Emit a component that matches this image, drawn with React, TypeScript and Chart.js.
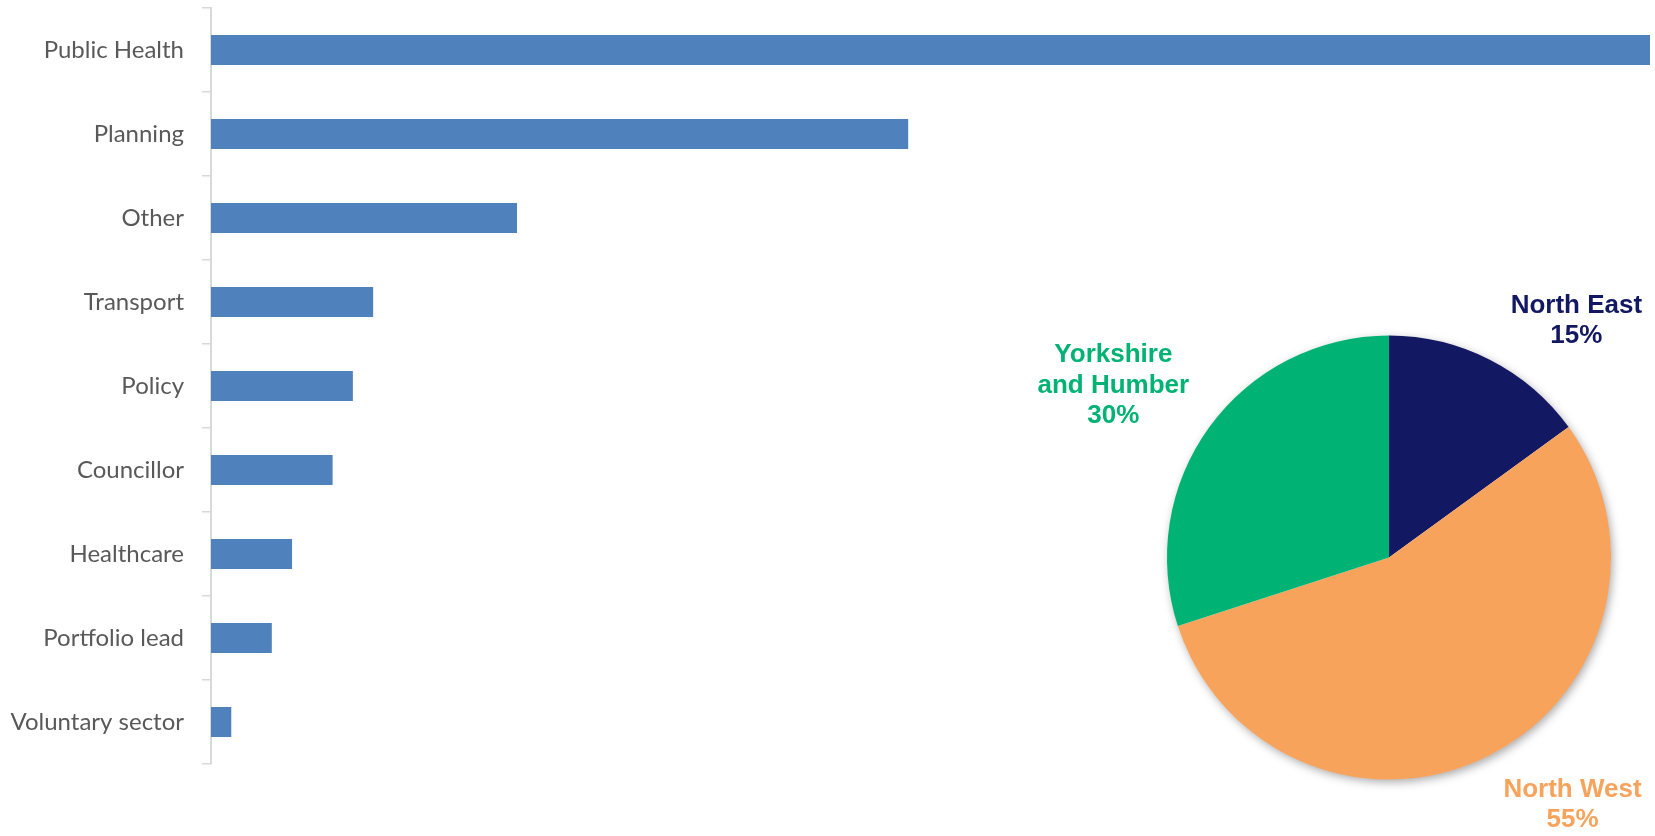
import React, { useEffect, useRef } from "react";
import { Chart, registerables } from "chart.js";

Chart.register(...registerables);

// ---- Bar chart data ----
const categories = [
  "Public Health",
  "Planning",
  "Other",
  "Transport",
  "Policy",
  "Councillor",
  "Healthcare",
  "Portfolio lead",
  "Voluntary sector",
];
const counts = [71, 34.4, 15.1, 8, 7, 6, 4, 3, 1];

// ---- Pie chart data ----
const regions = ["North East", "North West", "Yorkshire and Humber"];
const regionLabelLines = [["North East"], ["North West"], ["Yorkshire", "and Humber"]];
const regionShares = [15, 55, 30];
const regionColors = ["#131862", "#f8a35c", "#00b274"];

// label placement tweaks (relative to slice mid-angle / radius)
const labelAngleShiftDeg = [11.1, -9.8, -3.7];
const labelRadiusFactor = [1.368, 1.38, 1.469];

const W = 1655;
const H = 836;

const shadowPlugin = {
  id: "pieShadow",
  beforeDatasetsDraw(chart: any) {
    const meta = chart.getDatasetMeta(0);
    const arc = meta.data[0];
    if (!arc) return;
    const { x, y, outerRadius } = arc.getProps(["x", "y", "outerRadius"], true);
    const ctx = chart.ctx;
    ctx.save();
    ctx.shadowColor = "rgba(0,0,0,0.35)";
    ctx.shadowBlur = 10;
    ctx.shadowOffsetX = 2;
    ctx.shadowOffsetY = 3;
    ctx.fillStyle = "#ffffff";
    ctx.beginPath();
    ctx.arc(x, y, outerRadius - 0.5, 0, Math.PI * 2);
    ctx.fill();
    ctx.restore();
  },
};

const pieLabelPlugin = {
  id: "pieLabels",
  afterDatasetsDraw(chart: any) {
    const meta = chart.getDatasetMeta(0);
    const ctx = chart.ctx;
    const total = regionShares.reduce((a, b) => a + b, 0);
    const lineH = 30.3;
    ctx.save();
    ctx.font = "bold 26px 'Liberation Sans', Arial, sans-serif";
    ctx.textAlign = "center";
    ctx.textBaseline = "alphabetic";
    meta.data.forEach((arc: any, i: number) => {
      const p = arc.getProps(["x", "y", "startAngle", "endAngle", "outerRadius"], true);
      const mid = (p.startAngle + p.endAngle) / 2 + (labelAngleShiftDeg[i] * Math.PI) / 180;
      const r = p.outerRadius * labelRadiusFactor[i];
      const cx = p.x + Math.cos(mid) * r;
      const cy = p.y + Math.sin(mid) * r;
      const lines = [...regionLabelLines[i], Math.round((regionShares[i] / total) * 100) + "%"];
      const n = lines.length;
      ctx.fillStyle = regionColors[i];
      lines.forEach((t, k) => {
        const by = cy + (k - (n - 1) / 2) * lineH + 9.3;
        ctx.fillText(t, cx, by);
      });
    });
    ctx.restore();
  },
};

export default function App() {
  const barRef = useRef<HTMLCanvasElement>(null);
  const pieRef = useRef<HTMLCanvasElement>(null);

  useEffect(() => {
    const bar = new Chart(barRef.current as HTMLCanvasElement, {
      type: "bar",
      data: {
        labels: categories,
        datasets: [
          {
            data: counts,
            backgroundColor: "#4f81bd",
            borderWidth: 0,
            barPercentage: 0.357,
            categoryPercentage: 1,
          },
        ],
      },
      options: {
        indexAxis: "y",
        responsive: false,
        animation: false,
        devicePixelRatio: 1,
        events: [],
        layout: { padding: { left: 0, right: 5, top: 8, bottom: 72 } },
        plugins: { legend: { display: false }, tooltip: { enabled: false } },
        scales: {
          x: { display: false, min: 0, max: Math.max(...counts) },
          y: {
            afterFit: (s: any) => {
              s.width = 211;
              s.paddingTop = 0;
              s.paddingBottom = 0;
            },
            grid: {
              drawOnChartArea: false,
              drawTicks: true,
              tickLength: 9,
              color: "#d9d9d9",
              lineWidth: 1.5,
              offset: true,
            },
            border: { display: true, color: "#d9d9d9", width: 2 },
            ticks: {
              color: "#595959",
              font: { family: "Lato", size: 24 },
              padding: 18,
            },
          },
        },
      } as any,
    });

    const pie = new Chart(pieRef.current as HTMLCanvasElement, {
      type: "pie",
      data: {
        labels: regions,
        datasets: [
          {
            data: regionShares,
            backgroundColor: regionColors,
            borderWidth: 0,
          },
        ],
      },
      options: {
        responsive: false,
        animation: false,
        devicePixelRatio: 1,
        events: [],
        layout: { padding: { left: 1167, right: 44, top: 335.5, bottom: 56.5 } },
        plugins: { legend: { display: false }, tooltip: { enabled: false } },
      } as any,
      plugins: [shadowPlugin, pieLabelPlugin],
    });

    return () => {
      bar.destroy();
      pie.destroy();
    };
  }, []);

  return (
    <div style={{ position: "fixed", left: 0, top: 0, width: W, height: H, background: "#ffffff" }}>
      <canvas ref={barRef} width={W} height={H} style={{ position: "absolute", left: 0, top: 0 }} />
      <canvas ref={pieRef} width={W} height={H} style={{ position: "absolute", left: 0, top: 0 }} />
    </div>
  );
}
